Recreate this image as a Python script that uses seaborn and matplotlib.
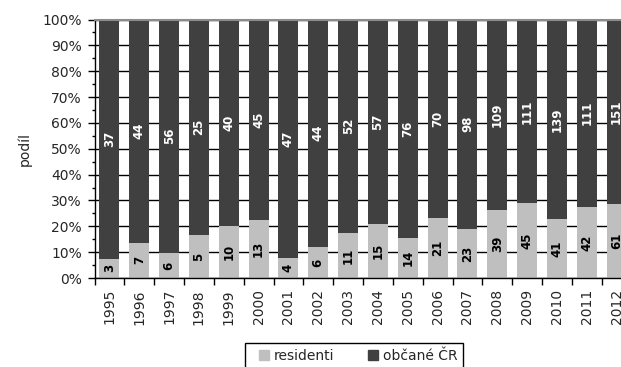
import numpy as np
import pandas as pd
import matplotlib
matplotlib.use("Agg")
import matplotlib.pyplot as plt
import seaborn as sns
from matplotlib.ticker import MultipleLocator, PercentFormatter, FixedLocator
from matplotlib.lines import Line2D

# Data: counts per year
years = [str(y) for y in range(1995, 2013)]
residenti = [3, 7, 6, 5, 10, 13, 4, 6, 11, 15, 14, 21, 23, 39, 45, 41, 42, 61]
obcane = [37, 44, 56, 25, 40, 45, 47, 44, 52, 57, 76, 70, 98, 109, 111, 139, 111, 151]
series_names = ["residenti", "občané ČR"]

LIGHT = "#BFBFBF"
DARK = "#404040"

sns.set_style("ticks")
plt.rcParams["font.family"] = ["DejaVu Sans"]

df = pd.DataFrame({"rok": years, "residenti": residenti, "obcane": obcane})
df["celkem"] = df["residenti"] + df["obcane"]
df["podil_res"] = df["residenti"] / df["celkem"]
df["podil_cel"] = df["celkem"] / df["celkem"]

W, H = 621, 367
fig = plt.figure(figsize=(W / 100, H / 100), dpi=100)
ax = fig.add_axes([94.5 / W, 1 - 278 / H, 537 / W, 258.5 / H])

# 100 % stacked bars: full-height dark bar, light share drawn over it
sns.barplot(data=df, x="rok", y="podil_cel", color=DARK, saturation=1,
            width=0.67, errorbar=None, linewidth=0, zorder=2, ax=ax)
sns.barplot(data=df, x="rok", y="podil_res", color=LIGHT, saturation=1,
            width=0.67, errorbar=None, linewidth=0, zorder=3, ax=ax)

# Value labels in the middle of each segment
for i, row in df.iterrows():
    ax.text(i, row["podil_res"] / 2, str(row["residenti"]), rotation=90,
            ha="center", va="center", fontsize=8.5, fontweight="bold",
            color="black", zorder=5)
    ax.text(i, (row["podil_res"] + 1) / 2, str(row["obcane"]), rotation=90,
            ha="center", va="center", fontsize=8.5, fontweight="bold",
            color="white", zorder=5)

ax.set_xlim(-0.5, len(years) - 0.5)
ax.set_ylim(0, 1)
ax.yaxis.set_major_locator(MultipleLocator(0.1))
ax.yaxis.set_minor_locator(MultipleLocator(0.05))
ax.yaxis.set_major_formatter(PercentFormatter(1.0, decimals=0))
ax.yaxis.grid(True, which="major", color="black", linewidth=1)
ax.set_axisbelow(True)

ax.xaxis.set_minor_locator(FixedLocator(np.arange(-0.5, len(years), 1.0)))
ax.tick_params(axis="x", which="major", length=0, pad=8, labelsize=10,
               labelrotation=90)
ax.tick_params(axis="x", which="minor", length=5, width=1, color="black",
               direction="out")
ax.tick_params(axis="y", which="major", length=5, width=1, color="black",
               pad=4, labelsize=10)
ax.tick_params(axis="y", which="minor", length=2.5, width=1, color="black")

ax.set_xlabel("")
ax.set_ylabel("podíl", fontsize=10, labelpad=8)

for side in ("left", "bottom"):
    ax.spines[side].set_color("black")
    ax.spines[side].set_linewidth(1)
    ax.spines[side].set_zorder(6)
ax.spines["right"].set_visible(False)
ax.spines["top"].set_color("#8C8C8C")
ax.spines["top"].set_linewidth(1.5)
ax.spines["top"].set_zorder(6)

handles = [
    Line2D([], [], marker="s", linestyle="none", markersize=6.5,
           markerfacecolor=LIGHT, markeredgecolor=LIGHT),
    Line2D([], [], marker="s", linestyle="none", markersize=6.5,
           markerfacecolor=DARK, markeredgecolor=DARK),
]
leg = fig.legend(handles, series_names, loc="upper left",
                 bbox_to_anchor=(245 / W, 1 - 343 / H),
                 bbox_transform=fig.transFigure, borderaxespad=0,
                 ncol=2, fontsize=10, frameon=True, fancybox=False,
                 edgecolor="black", framealpha=1, handlelength=2.0,
                 handletextpad=-0.3, columnspacing=1.75, borderpad=0.4)
leg.get_frame().set_linewidth(1)

fig.savefig("out.png", dpi=100)
